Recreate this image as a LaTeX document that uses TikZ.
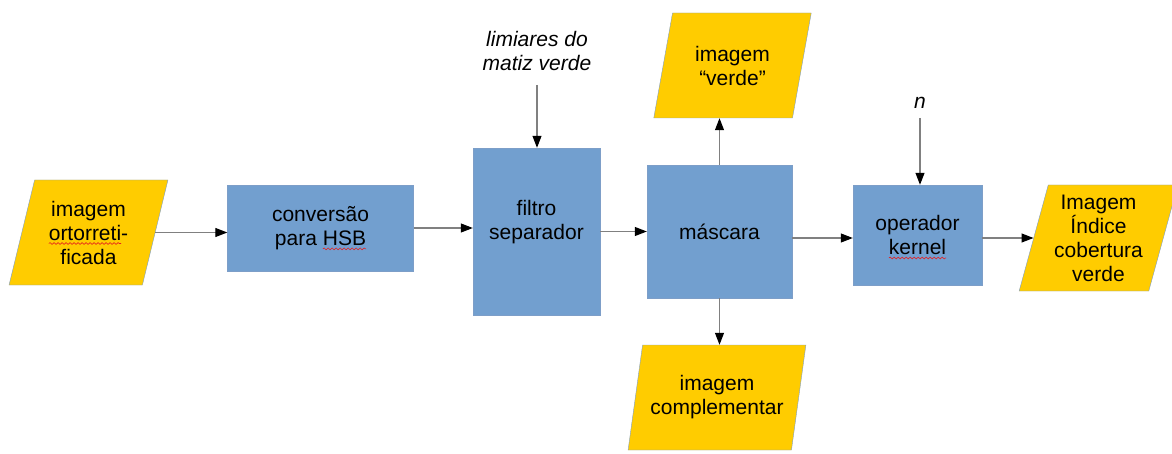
\documentclass[tikz,border=0pt]{standalone}
\usepackage{fontspec}
\setmainfont{Liberation Sans}
\usetikzlibrary{shapes.geometric,arrows.meta,decorations.pathmorphing}
\definecolor{cus-yellow}{RGB}{255, 204, 0}
\definecolor{cus-blue}{RGB}{114, 159, 207}
\definecolor{cus-edge}{RGB}{125, 158, 200}
\definecolor{cus-line}{RGB}{128, 128, 128}
\definecolor{cus-red}{RGB}{230, 30, 30}
\newcommand{\spellmark}[1]{%
	\tikz[baseline=(w.base)]{
		\node [shape=rectangle, draw=none, fill=none, minimum width=0pt, minimum height=0pt, inner sep=0pt, outer sep=0pt] (w) {#1};
		\draw [overlay, cus-red, line width=0.6pt, decorate, decoration={snake, amplitude=0.9pt, segment length=4pt}] ([yshift=-3.5pt]w.base west) -- ([yshift=-3.5pt]w.base east);
	}%
}

\begin{document}
\begin{tikzpicture}[x=1pt, y=-1pt,
	font=\fontsize{21}{24}\selectfont,
	block/.style={draw=cus-edge, fill=cus-blue, align=center, inner sep=0pt},
	data/.style={trapezium, trapezium left angle=73.5, trapezium right angle=106.5, trapezium stretches=true,
		draw=cus-edge, fill=cus-yellow, align=center, inner sep=0pt, minimum height=105pt, minimum width=159pt},
	param/.style={font=\fontsize{21}{24}\selectfont\itshape, align=center, inner sep=0pt},
	flow/.style={draw=cus-line, line width=1.1pt, -{Triangle[length=12pt, width=9pt, color=black]}}]

\useasboundingbox (0,0) rectangle (1172,454);
\clip (0,0) rectangle (1172,454);

% blocos
\node [data] (orto) at (88.5,232.5) {imagem\\\spellmark{ortorreti}-\\ficada};
\node [block, minimum width=186pt, minimum height=86pt] (conv) at (320.5,228) {conversão\\para \spellmark{HSB}};
\node [block, minimum width=127pt, minimum height=167pt] (filtro) at (536.5,231.5) {filtro\\separador\\\mbox{}};
\node [param] (limiar) at (537,51) {limiares do\\matiz verde};
\node [block, minimum width=145pt, minimum height=133pt] (mask) at (719.5,231.5) {máscara};
\node [data] (verde) at (732.5,65.5) {imagem\\“verde”};
\node [data, minimum width=178pt] (compl) at (717,397.5) {imagem\\complementar};
\node [block, minimum width=129pt, minimum height=100pt] (kernel) at (917.5,235) {operador\\\spellmark{kernel}};
\node [param] (n) at (920,103) {n};
\node [data, minimum height=106pt] (indice) at (1098.5,238) {Imagem\\Índice\\cobertura\\verde};

% setas
\draw [flow] (orto.east) -- (orto.east -| conv.west);
\draw [flow] (conv.east) -- (conv.east -| filtro.west);
\draw [flow, shorten <=14pt] (limiar.south) -- (limiar.south |- filtro.north);
\draw [flow] (filtro.east) -- (filtro.east -| mask.west);
\draw [flow] (mask.north) -- (mask.north |- verde.south);
\draw [flow] (mask.south) -- (mask.south |- compl.north);
\draw [flow] (mask.east |- indice.west) -- (kernel.west |- indice.west);
\draw [flow, shorten <=9pt] (n.south) -- (n.south |- kernel.north);
\draw [flow] (kernel.east |- indice.west) -- (indice.west);

\end{tikzpicture}
\end{document}
